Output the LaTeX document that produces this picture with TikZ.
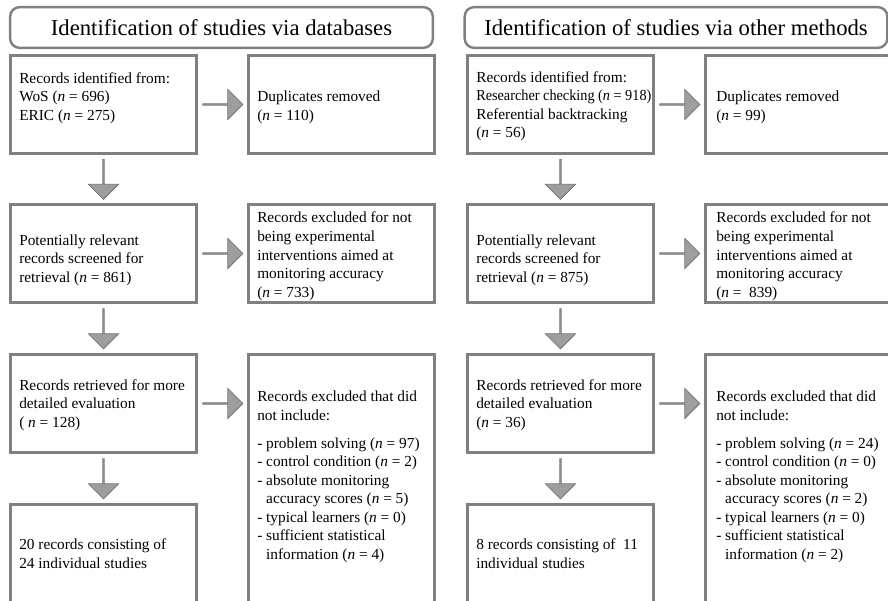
\documentclass[tikz,border=0pt]{standalone}
\usepackage{fontspec}
\setmainfont{Liberation Serif}
\usepackage{graphicx}
\usetikzlibrary{shapes.arrows,calc}
\definecolor{boxgray}{RGB}{128,128,128}
\definecolor{arrfill}{RGB}{158,158,158}
\definecolor{arrdraw}{RGB}{115,115,115}
\begin{document}
\begin{tikzpicture}[x=0.75pt,y=-0.75pt,
  box/.style={draw=boxgray,line width=2.2pt,minimum width=139.5pt,minimum height=73.5pt,inner sep=0pt,anchor=north west},
  tallbox/.style={box,minimum height=200pt},
  hdr/.style={draw=boxgray,line width=1.8pt,rounded corners=7pt,minimum width=317pt,minimum height=30.5pt,inner sep=0pt,font=\fontsize{17}{20}\selectfont},
  txt/.style={anchor=base west,align=left,inner sep=0pt,font=\fontsize{11.5}{13.9}\selectfont},
  rarr/.style={single arrow,draw=arrdraw,fill=arrfill,line width=0.6pt,minimum height=30pt,minimum width=22.5pt,single arrow head extend=6pt,inner sep=0pt},
  darr/.style={rarr,rotate=-90}]
\useasboundingbox (0,0) rectangle (888,600);
\clip (0,0) rectangle (888,600);
% headers
\node[hdr] (h1) at (221.5,27.5) {Identification of studies via databases};
\node[hdr] (h2) at (676,27.5) {Identification of studies via other methods};
% left column boxes
\node[box] (a1) at (9,54) {};
\node[box] (b1) at (247,54) {};
\node[box] (a2) at (9,203) {};
\node[box] (b2) at (247,203) {};
\node[box] (a3) at (9,353) {};
\node[tallbox] (b3) at (247,353) {};
\node[box,minimum height=100pt] (a4) at (9,503) {};
% right column boxes
\node[box] (c1) at (466,54) {};
\node[box] (d1) at (704,54) {};
\node[box] (c2) at (466,203) {};
\node[box] (d2) at (704,203) {};
\node[box] (c3) at (466,353) {};
\node[tallbox] (d3) at (704,353) {};
\node[box,minimum height=100pt] (c4) at (466,503) {};
% arrows left
\node[rarr] (ra1) at ($(a1.east)!0.5!(b1.west)$) {};
\node[rarr] (ra2) at ($(a2.east)!0.5!(b2.west)$) {};
\node[rarr] (ra3) at ($(a3.east)!0.5!(b3.west |- a3.east)$) {};
\node[darr] (da1) at ($(a1.south)!0.5!(a2.north)$) {};
\node[darr] (da2) at ($(a2.south)!0.5!(a3.north)$) {};
\node[darr] (da3) at ($(a3.south)!0.5!(a4.north)$) {};
% arrows right
\node[rarr] (rc1) at ($(c1.east)!0.5!(d1.west)$) {};
\node[rarr] (rc2) at ($(c2.east)!0.5!(d2.west)$) {};
\node[rarr] (rc3) at ($(c3.east)!0.5!(d3.west |- c3.east)$) {};
\node[darr] (dc1) at ($(c1.south)!0.5!(c2.north)$) {};
\node[darr] (dc2) at ($(c2.south)!0.5!(c3.north)$) {};
\node[darr] (dc3) at ($(c3.south)!0.5!(c4.north)$) {};
% texts left (anchor = baseline of last line)
\node[txt] (ta1) at (19,120.1) {Records identified from:\\WoS (\textit{n} = 696)\\ERIC (\textit{n} = 275)};
\node[txt] (tb1) at (257,120.5) {Duplicates removed\\(\textit{n} = 110)};
\node[txt] (ta2) at (19,282.1) {Potentially relevant\\records screened for\\retrieval (\textit{n} = 861)};
\node[txt] (tb2) at (257,297.1) {Records excluded for not\\being experimental\\interventions aimed at\\monitoring accuracy\\(\textit{n} = 733)};
\node[txt] (ta3) at (19,427.1) {Records retrieved for more\\detailed evaluation\\( \textit{n} = 128)};
\node[txt] (tb3) at (257,559.2) {Records excluded that did\\not include:\\[6.75pt]- problem solving (\textit{n} = 97)\\- control condition (\textit{n} = 2)\\- absolute monitoring\\\hphantom{- }accuracy scores (\textit{n} = 5)\\- typical learners (\textit{n} = 0)\\- sufficient statistical\\\hphantom{- }information (\textit{n} = 4)};
\node[txt] (ta4) at (19,568.5) {20 records consisting of\\24 individual studies};
% texts right
\node[txt] (tc1) at (476,137.6) {Records identified from:\\\scalebox{0.93}[1]{Researcher checking (\textit{n} = 918)}\\Referential backtracking\\(\textit{n} = 56)};
\node[txt] (td1) at (716,120.5) {Duplicates removed\\(\textit{n} = 99)};
\node[txt] (tc2) at (476,282.1) {Potentially relevant\\records screened for\\retrieval (\textit{n} = 875)};
\node[txt] (td2) at (716,297.1) {Records excluded for not\\being experimental\\interventions aimed at\\monitoring accuracy\\(\textit{n} =\ \ 839)};
\node[txt] (tc3) at (476,427.1) {Records retrieved for more\\detailed evaluation\\(\textit{n} = 36)};
\node[txt] (td3) at (716,559.2) {Records excluded that did\\not include:\\[6.75pt]- problem solving (\textit{n} = 24)\\- control condition (\textit{n} = 0)\\- absolute monitoring\\\hphantom{- }accuracy scores (\textit{n} = 2)\\- typical learners (\textit{n} = 0)\\- sufficient statistical\\\hphantom{- }information (\textit{n} = 2)};
\node[txt] (tc4) at (476,568.5) {8 records consisting of\ \ 11\\individual studies};
\end{tikzpicture}
\end{document}
